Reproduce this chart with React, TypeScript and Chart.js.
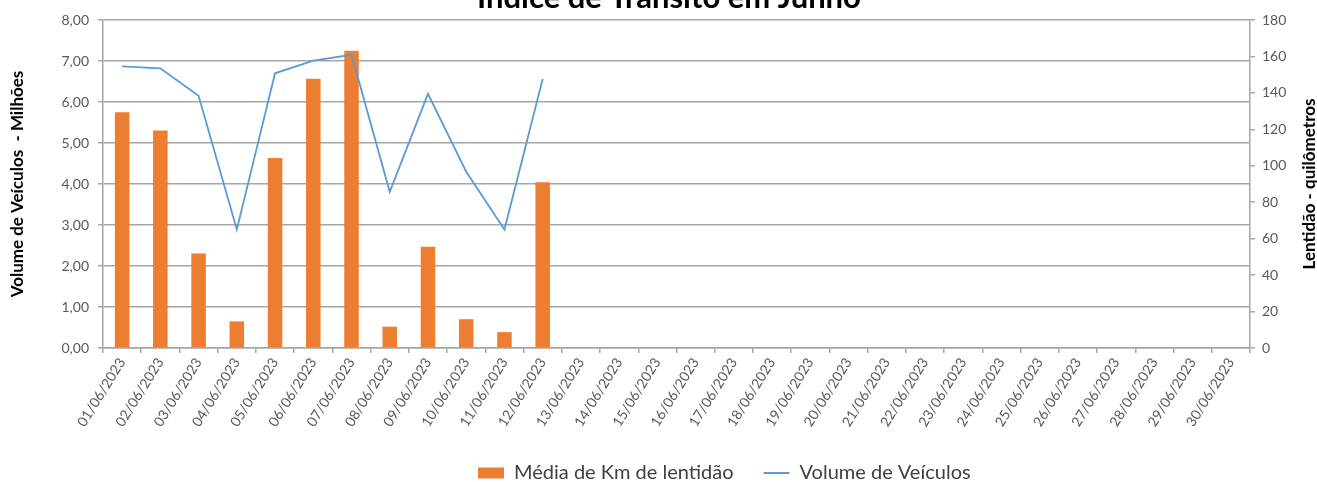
import React, { useEffect, useRef } from 'react';
import { Chart, registerables } from 'chart.js';

Chart.register(...registerables);

const chartTitle = 'Índice de Trânsito em Junho';
const leftAxisTitle = 'Volume de Veículos  - Milhões';
const rightAxisTitle = 'Lentidão - quilômetros';
const barSeriesName = 'Média de Km de lentidão';
const lineSeriesName = 'Volume de Veículos';

const categories = [
  '01/06/2023', '02/06/2023', '03/06/2023', '04/06/2023', '05/06/2023', '06/06/2023',
  '07/06/2023', '08/06/2023', '09/06/2023', '10/06/2023', '11/06/2023', '12/06/2023',
  '13/06/2023', '14/06/2023', '15/06/2023', '16/06/2023', '17/06/2023', '18/06/2023',
  '19/06/2023', '20/06/2023', '21/06/2023', '22/06/2023', '23/06/2023', '24/06/2023',
  '25/06/2023', '26/06/2023', '27/06/2023', '28/06/2023', '29/06/2023', '30/06/2023',
];

// Média de Km de lentidão (right axis, km)
const kmLentidao: (number | null)[] = [
  129.4, 119.3, 51.8, 14.6, 104.2, 147.8, 163.1, 11.7, 55.6, 15.8, 8.7, 90.9,
  null, null, null, null, null, null, null, null, null, null, null, null, null, null, null, null, null, null,
];

// Volume de Veículos (left axis, millions)
const volumeMilhoes: (number | null)[] = [
  6.87, 6.82, 6.15, 2.89, 6.70, 7.01, 7.15, 3.81, 6.20, 4.30, 2.89, 6.56,
  null, null, null, null, null, null, null, null, null, null, null, null, null, null, null, null, null, null,
];

const leftAxisMin = 0;
const leftAxisMax = 8;
const leftAxisStep = 1;
const rightAxisMin = 0;
const rightAxisMax = 180;
const rightAxisStep = 20;

const FONT = 'Lato';
const GRID = '#a6a6a6';
const TICK_COLOR = '#595959';
const ORANGE = '#ED7D31';
const BLUE = '#5B9BD5';

const W = 1317;
const H = 482;
const PLOT_LEFT = 103;
const PLOT_RIGHT = 1250;
const PLOT_TOP = 20;
const PLOT_BOTTOM = 348;
const LEGEND_PAD = 30;
const LEGEND_FONT = 20;
const LEGEND_BOX_H = 11;
const LEGEND_START_X = 478;
const LEGEND_CENTER_Y = 473;

const extraPlugin = {
  id: 'extraText',
  afterLayout(chart: any) {
    const lg = chart.legend;
    if (lg && lg.lineWidths) {
      const startX = (lg.left + LEGEND_PAD + lg.right - lg.lineWidths[0]) / 2;
      const dx = LEGEND_START_X - startX;
      const itemH = Math.max(LEGEND_FONT, LEGEND_BOX_H);
      const dy = LEGEND_CENTER_Y - (lg.top + LEGEND_PAD + itemH / 2);
      lg.left += dx;
      lg.right += dx;
      lg.top += dy;
      lg.bottom += dy;
    }
    const xs = chart.scales.x;
    if (xs) {
      xs.bottom = H;
      xs.height = H - xs.top;
    }
  },
  afterDraw(chart: any) {
    const ctx = chart.ctx;
    const area = chart.chartArea;
    ctx.save();
    ctx.fillStyle = '#000000';
    ctx.font = `bold 31px ${FONT}`;
    ctx.textAlign = 'center';
    ctx.textBaseline = 'alphabetic';
    ctx.fillText(chartTitle, 669, 8);
    ctx.restore();

    ctx.save();
    ctx.translate(1310, (area.top + area.bottom) / 2);
    ctx.rotate(-Math.PI / 2);
    ctx.fillStyle = '#000000';
    ctx.font = `bold 17px ${FONT}`;
    ctx.textAlign = 'center';
    ctx.textBaseline = 'middle';
    ctx.fillText(rightAxisTitle, 0, 0);
    ctx.restore();
  },
};

export default function App() {
  const canvasRef = useRef<HTMLCanvasElement | null>(null);

  useEffect(() => {
    const canvas = canvasRef.current;
    if (!canvas) return;
    const chart = new Chart(canvas, {
      type: 'bar',
      data: {
        labels: categories,
        datasets: [
          {
            type: 'bar',
            label: barSeriesName,
            data: kmLentidao,
            yAxisID: 'y1',
            backgroundColor: ORANGE,
            borderColor: ORANGE,
            borderWidth: 0,
            categoryPercentage: 1,
            barPercentage: 0.38,
            pointStyle: 'rect',
            order: 2,
          } as any,
          {
            type: 'line',
            label: lineSeriesName,
            data: volumeMilhoes,
            yAxisID: 'y',
            borderColor: BLUE,
            backgroundColor: BLUE,
            borderWidth: 1.8,
            pointRadius: 0,
            pointHoverRadius: 0,
            tension: 0,
            spanGaps: false,
            pointStyle: 'line',
            order: 1,
          } as any,
        ],
      },
      options: {
        responsive: false,
        animation: false,
        devicePixelRatio: 1,
        layout: { padding: { top: PLOT_TOP, left: 0, right: 0, bottom: 0 } },
        plugins: {
          title: { display: false },
          tooltip: { enabled: false },
          legend: {
            display: true,
            position: 'bottom',
            labels: {
              usePointStyle: true,
              pointStyleWidth: 26,
              boxHeight: LEGEND_BOX_H,
              padding: LEGEND_PAD,
              color: '#404040',
              font: { family: FONT, size: LEGEND_FONT },
              sort: (a: any, b: any) => a.datasetIndex - b.datasetIndex,
            },
          },
        },
        scales: {
          x: {
            type: 'category',
            offset: true,
            grid: {
              offset: true,
              drawOnChartArea: false,
              drawTicks: true,
              tickLength: 5,
              color: GRID,
              lineWidth: 1.5,
            },
            border: { display: true, color: GRID, width: 1.5 },
            ticks: {
              autoSkip: false,
              minRotation: 58,
              maxRotation: 58,
              padding: 2,
              color: TICK_COLOR,
              font: { family: FONT, size: 14 },
            },
            afterFit(scale: any) {
              const legendH = Math.max(LEGEND_FONT, LEGEND_BOX_H) + LEGEND_PAD + 10;
              scale.height = H - PLOT_BOTTOM - legendH;
            },
          },
          y: {
            type: 'linear',
            position: 'left',
            min: leftAxisMin,
            max: leftAxisMax,
            ticks: {
              stepSize: leftAxisStep,
              padding: 9,
              color: TICK_COLOR,
              font: { family: FONT, size: 14 },
              callback: (v: any) => Number(v).toFixed(2).replace('.', ','),
            },
            grid: {
              drawOnChartArea: true,
              drawTicks: true,
              tickLength: 5,
              color: GRID,
              lineWidth: 1.5,
            },
            border: { display: true, color: GRID, width: 1.5 },
            title: {
              display: true,
              text: leftAxisTitle,
              color: '#000000',
              font: { family: FONT, size: 17, weight: 'bold' },
              padding: { top: 7, bottom: 0 },
            },
            afterFit(scale: any) {
              scale.width = PLOT_LEFT;
            },
          },
          y1: {
            type: 'linear',
            position: 'right',
            min: rightAxisMin,
            max: rightAxisMax,
            ticks: {
              stepSize: rightAxisStep,
              padding: 7,
              color: TICK_COLOR,
              font: { family: FONT, size: 14 },
            },
            grid: {
              drawOnChartArea: false,
              drawTicks: true,
              tickLength: 5,
              color: GRID,
              lineWidth: 1.5,
            },
            border: { display: true, color: GRID, width: 1.5 },
            afterFit(scale: any) {
              scale.width = W - PLOT_RIGHT;
            },
          },
        },
      } as any,
      plugins: [extraPlugin],
    });
    return () => chart.destroy();
  }, []);

  return (
    <div style={{ position: 'absolute', left: 0, top: 0, width: W, height: H, background: '#ffffff' }}>
      <canvas ref={canvasRef} width={W} height={H} style={{ display: 'block' }} />
    </div>
  );
}
